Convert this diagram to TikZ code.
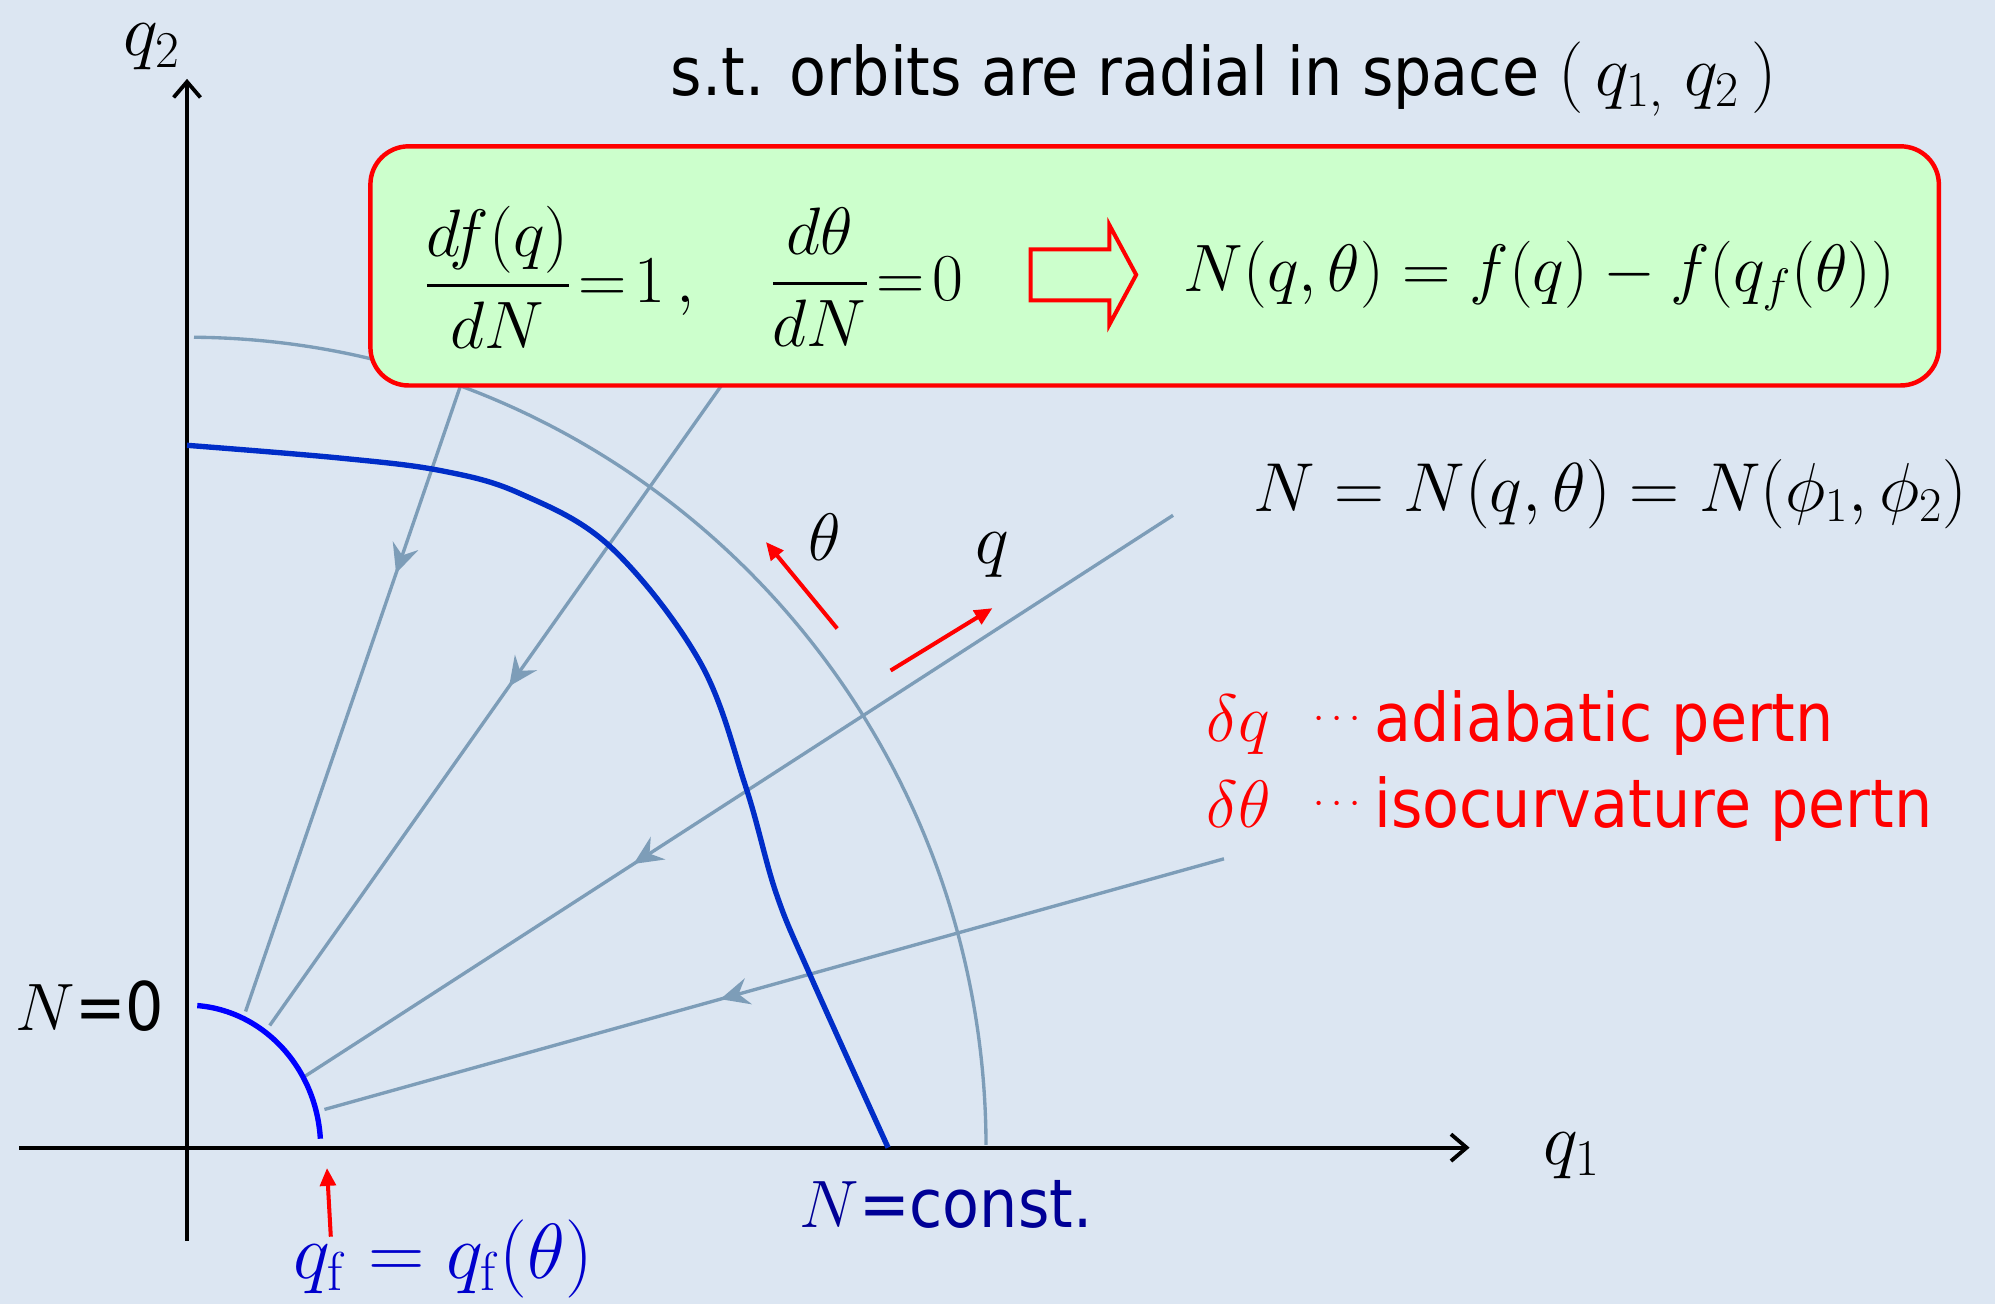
\RequirePackage{fix-cm}
\documentclass[tikz,border=0pt]{standalone}
\usepackage{amsmath}
\usepackage[no-math]{fontspec}
\setmainfont{DejaVu Sans}[FakeStretch=0.9]
\usetikzlibrary{arrows.meta,positioning,decorations.markings}
\definecolor{slidebg}{RGB}{220,230,242}
\definecolor{boxgreen}{RGB}{204,255,204}
\definecolor{orbitgray}{RGB}{125,157,184}
\definecolor{curveblue}{RGB}{0,45,200}
\definecolor{constblue}{RGB}{0,0,150}
\definecolor{qfblue}{RGB}{0,0,204}
\newcommand{\bigtxt}{\fontsize{30}{36}\selectfont}
\newcommand{\pertdots}{\raisebox{6pt}{\fontsize{18}{18}\selectfont$\cdots$}}

\begin{document}
\begin{tikzpicture}[x=0.02cm, y=0.02cm,
        every node/.style={font=\bigtxt, inner sep=0pt},
        axis/.style={line width=1.7pt, -{Straight Barb[length=7pt,width=12pt]}},
        axlabel/.style={anchor=base west, font=\fontsize{33}{38}\selectfont},
        orbit/.style={orbitgray, line width=1.5pt},
        flow/.style={orbit, postaction={decorate}, decoration={markings,
          mark=at position #1 with {\arrow{Stealth[length=13pt,width=12pt,inset=4.5pt]}}}},
        redarrow/.style={red, line width=1.8pt, -{Triangle[length=8pt,width=7pt]}},
        eqbox/.style={rectangle, rounded corners=0.6cm, draw=red, fill=boxgreen, line width=2pt}]
  \fill[slidebg] (-147,-123) rectangle (1421,902);
  \useasboundingbox (-147,-123) rectangle (1421,902);

  \coordinate (o) at (0,0);
  \coordinate (xl) at (-132,0);
  \coordinate (xr) at (1008,0);
  \coordinate (yb) at (0,-73);
  \coordinate (yt) at (0,840);
  \draw[axis] (xl) -- (xr);
  \draw[axis] (yb) -- (yt);
  \node[axlabel] (q2lab) at (-50,858) {$q_2$};
  \node[axlabel] (q1lab) at (1066,-13) {$q_1$};

  \draw[orbit] (o) ++(89.5:628 and 637) arc[start angle=89.5, end angle=0.2, x radius=628, y radius=637];
  \coordinate (a1) at (215,599);  \coordinate (b1) at (46,107);
  \coordinate (a2) at (420,599);  \coordinate (b2) at (65,96);
  \coordinate (a3) at (775,497);  \coordinate (b3) at (91,55);
  \coordinate (a4) at (815,227);  \coordinate (b4) at (108,30);
  \draw[flow=0.3] (a1) -- (b1);
  \draw[flow=0.47] (a2) -- (b2);
  \draw[flow=0.62] (a3) -- (b3);
  \draw[flow=0.56] (a4) -- (b4);

  \node[eqbox, minimum width=24.66cm, minimum height=3.76cm] (box) at (760.5,693) {};
  \node[anchor=west] (rate1) at (186,684) {$\dfrac{df(q)}{dN}\!=\!1\,,$};
  \node[anchor=west] (rate2) at (458,684) {$\dfrac{d\theta}{dN}\!=\!0$};
  \draw[red, line width=1.8pt, fill=boxgreen] (663,666) -- (725,666) -- (725,647) -- (746,686)
    -- (725,725) -- (725,706) -- (663,706) -- cycle;
  \node[anchor=west] (nsol) at (783,685) {$N(q,\theta)=f(q)-f(q_f(\theta))$};

  \node[anchor=base west] (title) at (380,827)
    {s.t. orbits are radial in space {\fontsize{32}{38}\selectfont$(\,q_{1,}\;q_2\,)$}};
  \node[anchor=base west, font=\fontsize{31}{37}\selectfont] (neq) at (838,500) {$N=N(q,\theta)=N(\phi_1,\phi_2)$};
  \node[anchor=base west, red] (adia) at (801,319)
    {\makebox[1.68cm][l]{$\delta q$}\makebox[0.96cm][l]{\pertdots}adiabatic pertn};
  \node[anchor=base west, red] (iso) at (801,252)
    {\makebox[1.68cm][l]{$\delta\theta$}\makebox[0.96cm][l]{\pertdots}isocurvature pertn};

  \draw[curveblue, line width=2.4pt] plot[smooth, tension=0.6] coordinates
    {(0,552) (120,542) (200,532) (262,514) (333,472) (403,382) (439,284) (463,200) (490,135) (551,0)};
  \draw[blue, line width=2.4pt] (o) ++(85.6:105 and 112) arc[start angle=85.6, end angle=3.6, x radius=105, y radius=112];

  \coordinate (th0) at (511,408);  \coordinate (th1) at (455,476);
  \coordinate (qa0) at (553,375);  \coordinate (qa1) at (633,424);
  \coordinate (qf0) at (113,-70);  \coordinate (qf1) at (110,-16);
  \draw[redarrow] (th0) -- (th1);
  \draw[redarrow] (qa0) -- (qa1);
  \draw[redarrow] (qf0) -- (qf1);
  \node (thlab) at (501,480) {$\theta$};
  \node[font=\fontsize{32}{38}\selectfont] (qlab) at (633,466) {$q$};

  \node[anchor=base west] (nzero) at (-135,92) {$N$=0};
  \node[anchor=base west, constblue] (nconst) at (481,-63) {$N$=const.};
  \node[anchor=base west, qfblue, font=\fontsize{35}{40}\selectfont] (qflab) at (83,-103)
    {$q_{\mathrm{f}}=q_{\mathrm{f}}(\theta)$};
\end{tikzpicture}
\end{document}
